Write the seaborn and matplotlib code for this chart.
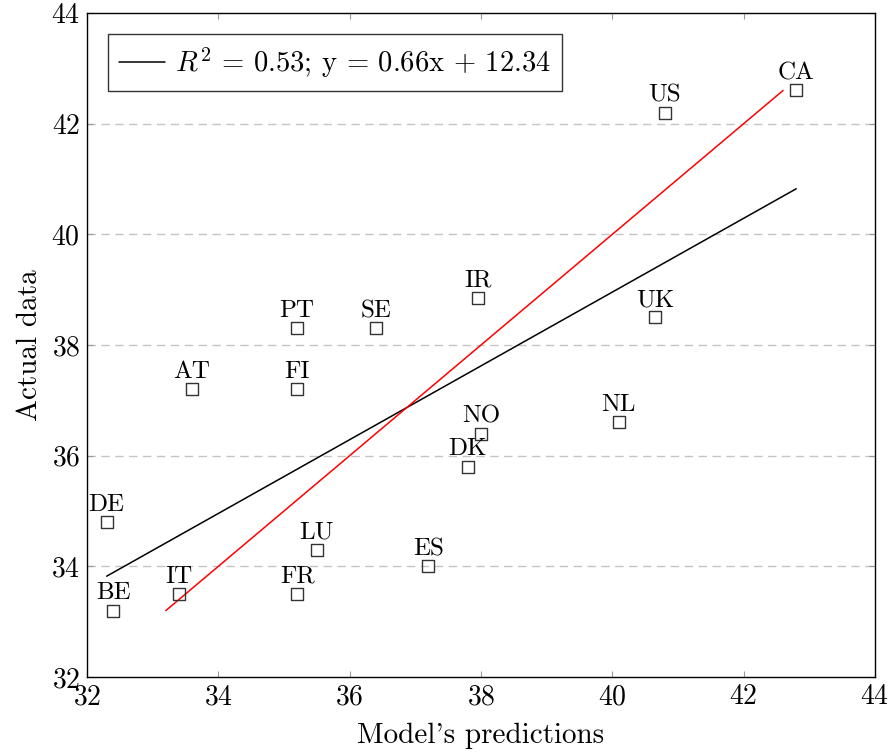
import numpy as np
import pandas as pd
import matplotlib
matplotlib.use("Agg")
import matplotlib.pyplot as plt
import seaborn as sns

countries = ["CA", "US", "IR", "UK", "PT", "SE", "AT", "FI", "NL",
             "NO", "DK", "DE", "LU", "ES", "IT", "FR", "BE"]
predicted = [42.8, 40.8, 37.95, 40.65, 35.2, 36.4, 33.6, 35.2, 40.1,
             38.0, 37.8, 32.3, 35.5, 37.2, 33.4, 35.2, 32.4]
actual = [42.6, 42.2, 38.85, 38.5, 38.3, 38.3, 37.2, 37.2, 36.6,
          36.4, 35.8, 34.8, 34.3, 34.0, 33.5, 33.5, 33.2]
legend_label = r"$R^2$ = 0.53; y = 0.66x + 12.34"
ticks = [32, 34, 36, 38, 40, 42, 44]

df = pd.DataFrame({"country": countries, "pred": predicted, "act": actual})

sns.set_theme(style="white")
plt.rcParams["font.family"] = "serif"
plt.rcParams["font.serif"] = ["cmr10", "DejaVu Serif"]
plt.rcParams["mathtext.fontset"] = "cm"
plt.rcParams["axes.formatter.use_mathtext"] = True
plt.rcParams["text.color"] = "black"
plt.rcParams["axes.labelcolor"] = "black"

fig = plt.figure(figsize=(8.9, 7.53), dpi=100)
ax = fig.add_axes([87 / 890, 1 - 677 / 753, 788 / 890, 664 / 753])

# grid
for t in ticks[1:-1]:
    ax.axhline(t, color="#c4c4c4", lw=1.0, ls=(0, (6, 4)), zorder=0)

# regression line (black)
sns.regplot(data=df, x="pred", y="act", scatter=False, ci=None, truncate=True,
            color="black", line_kws={"lw": 1.1, "zorder": 2}, ax=ax,
            label=legend_label)

# identity line (red)
lo, hi = min(actual), max(actual)
ax.plot([lo, hi], [lo, hi], color="red", lw=1.1, zorder=2)

# markers
sns.scatterplot(data=df, x="pred", y="act", marker="s", s=75,
                facecolor="none", edgecolor="#333333", linewidth=1.0,
                ax=ax, zorder=3, legend=False)

for c, xv, yv in zip(countries, predicted, actual):
    ax.annotate(c, (xv, yv), xytext=(0, 4.5), textcoords="offset points",
                ha="center", va="bottom", fontsize=18, color="black")

ax.set_xlim(32, 44)
ax.set_ylim(32, 44)
ax.set_xticks(ticks)
ax.set_yticks(ticks)
ax.tick_params(direction="in", length=4, width=0.8, color="#999999",
               top=True, right=True, bottom=True, left=True, labelsize=20,
               pad=5, labelcolor="black")
for sp in ax.spines.values():
    sp.set_color("black")
    sp.set_linewidth(1.0)

ax.set_xlabel("Model's predictions", fontsize=21, labelpad=9)
ax.set_ylabel("Actual data", fontsize=21, labelpad=6)

handles, labels = ax.get_legend_handles_labels()
leg = ax.legend(handles=handles[:1], labels=[legend_label], loc="upper left",
                fontsize=20.6, frameon=True, fancybox=False, handlelength=1.6,
                borderaxespad=0.72, borderpad=0.4, handletextpad=0.35)
leg.get_frame().set_edgecolor("black")
leg.get_frame().set_linewidth(1.0)

fig.savefig("out.png", dpi=100)
